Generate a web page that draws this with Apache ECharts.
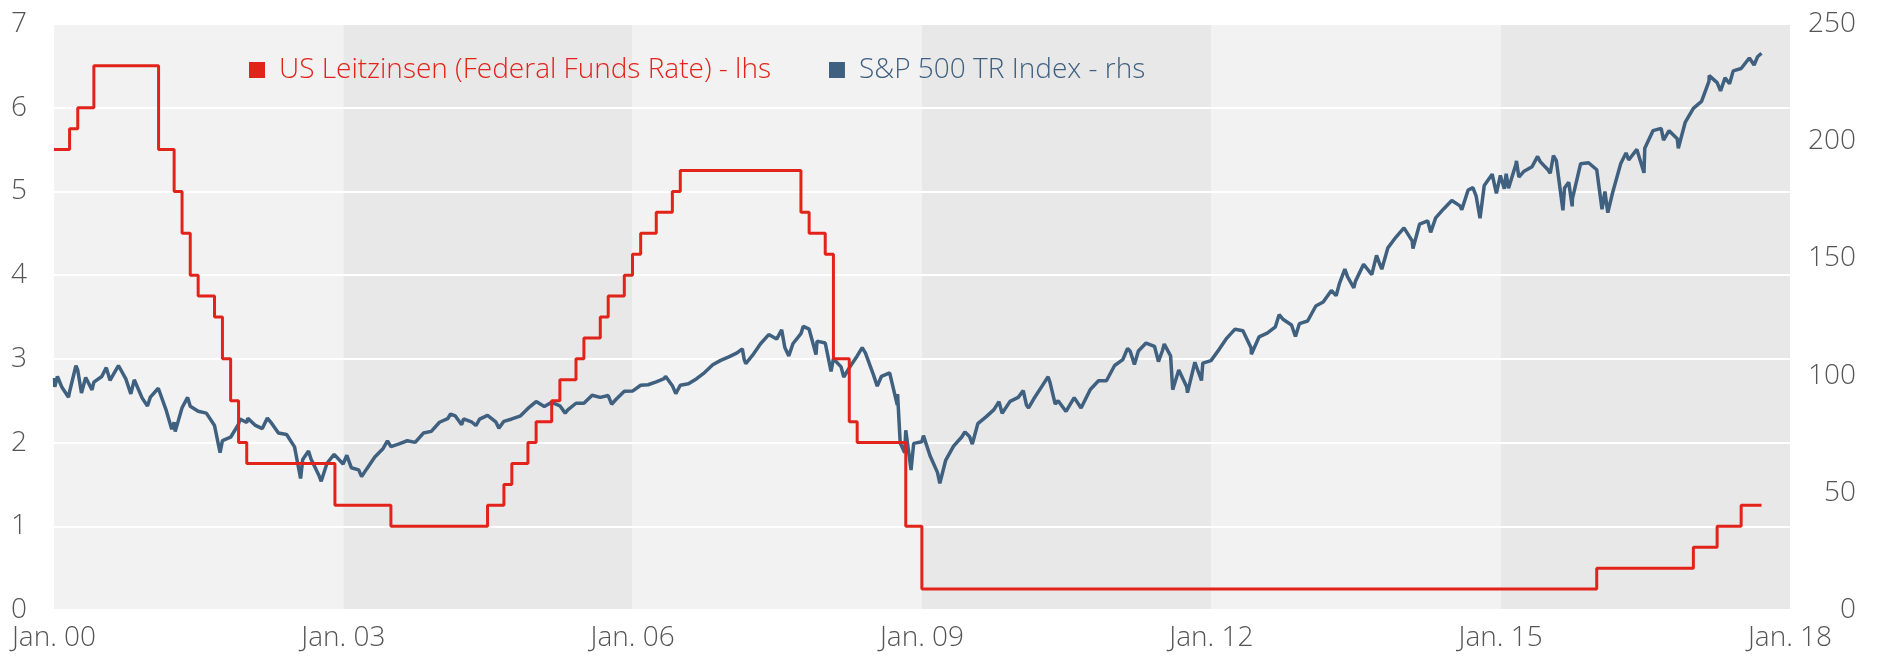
<!DOCTYPE html>
<html>
<head>
<meta charset="utf-8">
<script src="https://cdn.jsdelivr.net/npm/echarts@6/dist/echarts.min.js"></script>
<style>
html, body { margin: 0; padding: 0; background: #fff; }
#chart { width: 1890px; height: 665px; }
</style>
</head>
<body>
<div id="chart"></div>
<script>
// US Fed Funds target (month end, step changes)
var ffDates = ['2000-01-01','2000-02-29','2000-03-31','2000-05-31','2001-01-31','2001-03-31','2001-04-30','2001-05-31',
	'2001-06-30','2001-08-31','2001-09-30','2001-10-31','2001-11-30','2001-12-31','2002-11-30','2003-06-30',
	'2004-06-30','2004-08-31','2004-09-30','2004-11-30','2004-12-31','2005-02-28','2005-03-31','2005-05-31',
	'2005-06-30','2005-08-31','2005-09-30','2005-11-30','2005-12-31','2006-01-31','2006-03-31','2006-05-31',
	'2006-06-30','2007-09-30','2007-10-31','2007-12-31','2008-01-31','2008-03-31','2008-04-30','2008-10-31',
	'2008-12-31','2015-12-31','2016-12-31','2017-03-31','2017-06-30','2017-09-15'];
var ffRates = [5.5, 5.75, 6.0, 6.5, 5.5, 5.0, 4.5, 4.0,
	3.75, 3.5, 3.0, 2.5, 2.0, 1.75, 1.25, 1.0,
	1.25, 1.5, 1.75, 2.0, 2.25, 2.5, 2.75, 3.0,
	3.25, 3.5, 3.75, 4.0, 4.25, 4.5, 4.75, 5.0,
	5.25, 4.75, 4.5, 4.25, 3.0, 2.25, 2.0, 1.0,
	0.25, 0.5, 0.75, 1.0, 1.25, 1.25];

// S&P 500 TR index (rebased)
var spDates = [
	'2000-01-03','2000-01-04','2000-01-14','2000-01-31','2000-02-25','2000-02-29','2000-03-24','2000-03-31','2000-04-14','2000-04-30',
	'2000-05-24','2000-05-31','2000-06-30','2000-07-17','2000-07-31','2000-09-01','2000-09-29','2000-10-18','2000-10-31','2000-11-30',
	'2000-12-20','2000-12-31',
	'2001-01-30','2001-02-28','2001-03-22','2001-03-31','2001-04-04','2001-04-30','2001-05-21','2001-05-31','2001-06-30','2001-07-31',
	'2001-08-31','2001-09-21','2001-09-30','2001-10-31','2001-11-30','2001-12-05','2001-12-31',
	'2002-01-04','2002-01-31','2002-02-28','2002-03-19','2002-03-31','2002-04-30','2002-05-31','2002-06-30','2002-07-23','2002-07-31',
	'2002-08-22','2002-08-31','2002-09-30','2002-10-09','2002-10-31','2002-11-27','2002-11-30','2002-12-31',
	'2003-01-14','2003-01-31','2003-02-28','2003-03-11','2003-03-31','2003-04-30','2003-05-31','2003-06-17','2003-06-30','2003-07-31',
	'2003-08-31','2003-09-30','2003-10-31','2003-11-30','2003-12-31',
	'2004-01-31','2004-02-11','2004-02-29','2004-03-24','2004-03-31','2004-04-30','2004-05-17','2004-05-31','2004-06-30','2004-07-31',
	'2004-08-12','2004-08-31','2004-09-30','2004-10-31','2004-11-30','2004-12-31',
	'2005-01-31','2005-02-28','2005-03-31','2005-04-20','2005-04-30','2005-05-31','2005-06-30','2005-07-31','2005-08-31','2005-09-30',
	'2005-10-13','2005-10-31','2005-11-30','2005-12-31',
	'2006-01-31','2006-02-28','2006-03-31','2006-04-30','2006-05-05','2006-05-31','2006-06-13','2006-06-30','2006-07-31','2006-08-31',
	'2006-09-30','2006-10-31','2006-11-30','2006-12-31',
	'2007-01-31','2007-02-20','2007-02-27','2007-02-28','2007-03-05','2007-03-31','2007-04-30','2007-05-31','2007-06-30','2007-07-19',
	'2007-07-31','2007-08-15','2007-08-31','2007-09-30','2007-10-09','2007-10-31','2007-11-26','2007-11-30','2007-12-31',
	'2008-01-22','2008-01-31','2008-02-29','2008-03-10','2008-03-31','2008-04-30','2008-05-19','2008-05-31','2008-06-30','2008-07-15',
	'2008-07-31','2008-08-31','2008-09-29','2008-09-30','2008-10-10','2008-10-27','2008-10-31','2008-11-20','2008-11-30','2008-12-31',
	'2009-01-06','2009-01-31','2009-02-28','2009-03-09','2009-03-31','2009-04-30','2009-05-31','2009-06-12','2009-06-30','2009-07-10',
	'2009-07-31','2009-08-31','2009-09-30','2009-10-19','2009-10-31','2009-11-30','2009-12-31',
	'2010-01-19','2010-01-31','2010-02-08','2010-02-28','2010-03-31','2010-04-23','2010-04-30','2010-05-20','2010-05-31','2010-06-30',
	'2010-07-02','2010-07-31','2010-08-26','2010-08-31','2010-09-30','2010-10-31','2010-11-30','2010-12-31',
	'2011-01-31','2011-02-18','2011-02-28','2011-03-16','2011-03-31','2011-04-29','2011-05-31','2011-06-15','2011-06-30','2011-07-07',
	'2011-07-31','2011-08-08','2011-08-31','2011-09-30','2011-10-03','2011-10-31','2011-11-25','2011-11-30','2011-12-31',
	'2012-01-31','2012-02-29','2012-03-31','2012-04-30','2012-05-31','2012-06-01','2012-06-30','2012-07-31','2012-08-31','2012-09-14',
	'2012-09-30','2012-10-31','2012-11-15','2012-11-30','2012-12-31',
	'2013-01-31','2013-02-28','2013-03-31','2013-04-18','2013-04-30','2013-05-21','2013-05-31','2013-06-24','2013-06-30','2013-07-31',
	'2013-08-31','2013-09-18','2013-09-30','2013-10-08','2013-10-31','2013-11-30','2013-12-31',
	'2014-01-31','2014-02-03','2014-02-28','2014-03-31','2014-04-11','2014-04-30','2014-05-31','2014-06-30','2014-07-31','2014-08-07',
	'2014-08-31','2014-09-18','2014-09-30','2014-10-15','2014-10-31','2014-11-30','2014-12-16','2014-12-31',
	'2015-01-15','2015-01-22','2015-01-31','2015-02-28','2015-03-02','2015-03-11','2015-03-31','2015-04-30','2015-05-21','2015-05-31',
	'2015-06-30','2015-07-08','2015-07-20','2015-07-31','2015-08-25','2015-08-31','2015-09-16','2015-09-29','2015-09-30','2015-10-31',
	'2015-11-30','2015-12-31',
	'2016-01-20','2016-01-31','2016-02-11','2016-02-29','2016-03-31','2016-04-20','2016-04-30','2016-05-31','2016-06-27','2016-06-30',
	'2016-07-31','2016-08-31','2016-09-09','2016-09-30','2016-10-31','2016-11-04','2016-11-30','2016-12-31',
	'2017-01-31','2017-02-28','2017-03-01','2017-03-31','2017-04-13','2017-04-30','2017-05-17','2017-05-31','2017-06-30','2017-07-31',
	'2017-08-18','2017-08-31','2017-09-15'];
var spValues = [
	99.0, 95.2, 99.7, 95.0, 90.8, 93.1, 104.2, 102.3, 92.6, 99.2,
	93.9, 97.2, 99.6, 103.4, 98.0, 104.3, 98.6, 92.2, 98.2, 90.4,
	87.0, 90.8,
	94.6, 85.5, 77.1, 80.1, 76.1, 86.3, 90.7, 86.9, 84.8, 84.0,
	78.7, 67.1, 72.3, 73.7, 79.3, 81.5, 80.0,
	81.8, 78.9, 77.4, 81.9, 80.3, 75.5, 74.9, 69.6, 56.1, 64.2,
	67.8, 64.5, 57.5, 54.9, 62.6, 66.4, 66.2, 62.3,
	66.0, 60.7, 59.8, 56.9, 60.3, 65.3, 68.8, 72.2, 69.7, 70.9,
	72.2, 71.5, 75.5, 76.2, 80.1,
	81.6, 83.6, 82.8, 79.0, 81.5, 80.3, 78.7, 81.4, 83.0, 80.3,
	77.6, 80.5, 81.5, 82.7, 86.0, 88.9,
	86.8, 88.6, 87.1, 84.0, 85.4, 88.2, 88.2, 91.6, 90.7, 91.5,
	87.8, 90.0, 93.3, 93.4,
	95.9, 96.1, 97.3, 98.7, 99.7, 95.7, 92.3, 95.9, 96.5, 98.7,
	101.3, 104.6, 106.5, 108.0,
	109.7, 111.4, 106.9, 107.5, 105.1, 108.7, 113.6, 117.5, 115.6, 119.5,
	112.0, 108.4, 113.7, 117.9, 121.0, 119.8, 109.0, 114.7, 113.9,
	101.8, 107.2, 103.7, 99.4, 103.3, 108.4, 111.9, 109.7, 100.5, 95.5,
	99.7, 101.2, 87.4, 92.1, 71.2, 67.1, 76.7, 59.7, 71.1, 71.8,
	74.4, 65.8, 58.7, 54.0, 63.8, 69.9, 73.8, 76.0, 73.9, 70.8,
	79.5, 82.4, 85.5, 88.9, 83.9, 89.0, 90.7,
	93.6, 87.5, 86.2, 90.1, 95.5, 99.5, 97.2, 87.8, 89.3, 84.7,
	84.0, 90.6, 86.2, 86.4, 94.1, 97.8, 97.8, 104.3,
	106.8, 111.6, 110.4, 104.7, 110.5, 113.9, 112.5, 106.0, 110.6, 113.5,
	108.4, 94.0, 102.4, 95.2, 92.7, 105.7, 97.9, 105.3, 106.4,
	111.2, 116.0, 119.8, 119.1, 111.8, 109.1, 116.5, 118.1, 120.8, 126.0,
	123.9, 121.6, 116.7, 122.2, 123.3,
	129.7, 131.4, 136.3, 134.1, 139.1, 145.4, 142.2, 137.4, 140.2, 147.5,
	143.1, 151.3, 147.6, 145.4, 154.5, 159.0, 163.0,
	157.5, 154.2, 164.6, 166.0, 161.1, 167.3, 171.2, 174.7, 172.4, 170.8,
	179.2, 180.2, 176.7, 167.1, 181.1, 185.9, 177.7, 185.4,
	179.7, 186.1, 179.9, 190.2, 191.6, 184.7, 187.2, 189.1, 193.5, 191.3,
	187.7, 186.3, 193.9, 191.7, 170.5, 180.0, 182.5, 172.2, 175.5, 190.4,
	190.8, 187.8,
	171.0, 178.5, 169.5, 178.0, 190.5, 195.0, 192.0, 196.5, 186.5, 197.0,
	204.5, 205.5, 200.5, 204.5, 201.0, 197.0, 208.0, 214.0,
	217.0, 225.5, 228.0, 225.0, 221.5, 227.0, 224.5, 230.0, 231.0, 235.5,
	232.5, 236.0, 237.5];

var base = Date.UTC(2000, 0, 1);
var span = Date.UTC(2018, 0, 1) - base;
function toX(d) { return Date.parse(d) - base; }

var ffData = ffDates.map(function (d, i) { return [toX(d), ffRates[i]]; });
var spData = spDates.map(function (d, i) { return [toX(d), spValues[i]]; });

var font = "'Open Sans', sans-serif";
var red = '#e2231a';
var blue = '#40607f';

var chart = echarts.init(document.getElementById('chart'));
var option = {
	animation: false,
	textStyle: { fontFamily: font },
	grid: { left: 54, right: 100, top: 24, bottom: 55 },
	legend: {
		left: 244,
		top: 51,
		itemWidth: 16,
		itemHeight: 16,
		itemGap: 58,
		icon: 'rect',
		textStyle: { fontSize: 28, fontFamily: font, fontWeight: 300, padding: [0, 0, 0, 9] },
		data: [
			{ name: 'US Leitzinsen (Federal Funds Rate) - lhs', textStyle: { color: red } },
			{ name: 'S&P 500 TR Index - rhs', textStyle: { color: blue } }
		]
	},
	xAxis: {
		type: 'value',
		min: 0,
		max: span,
		interval: span / 6,
		z: 0,
		axisLine: { show: false },
		axisTick: { show: false },
		splitLine: { show: false },
		splitArea: { show: true, areaStyle: { color: ['#f2f2f2', '#e8e8e8'] } },
		axisLabel: {
			margin: 14,
			fontSize: 28,
			fontWeight: 300,
			color: '#555',
			formatter: function (v) {
				var d = new Date(base + v + 43200000);
				return 'Jan. ' + String(d.getUTCFullYear()).slice(2);
			}
		}
	},
	yAxis: [{
		type: 'value',
		min: 0,
		max: 7,
		interval: 1,
		z: 1,
		axisLine: { show: false },
		axisTick: { show: false },
		splitLine: { lineStyle: { color: '#fff', width: 2 } },
		axisLabel: { margin: 27, fontSize: 28, fontWeight: 300, color: '#555' }
	}, {
		type: 'value',
		min: 0,
		max: 250,
		interval: 50,
		position: 'right',
		z: 1,
		axisLine: { show: false },
		axisTick: { show: false },
		splitLine: { show: false },
		axisLabel: { margin: 66, align: 'right', fontSize: 28, fontWeight: 300, color: '#555' }
	}],
	series: [{
		name: 'US Leitzinsen (Federal Funds Rate) - lhs',
		type: 'line',
		step: 'end',
		yAxisIndex: 0,
		z: 3,
		showSymbol: false,
		symbol: 'none',
		itemStyle: { color: red },
		lineStyle: { color: red, width: 3 },
		data: ffData
	}, {
		name: 'S&P 500 TR Index - rhs',
		type: 'line',
		yAxisIndex: 1,
		z: 2,
		showSymbol: false,
		symbol: 'none',
		itemStyle: { color: blue },
		lineStyle: { color: blue, width: 3.5 },
		data: spData
	}]
};
chart.setOption(option);
</script>
</body>
</html>
